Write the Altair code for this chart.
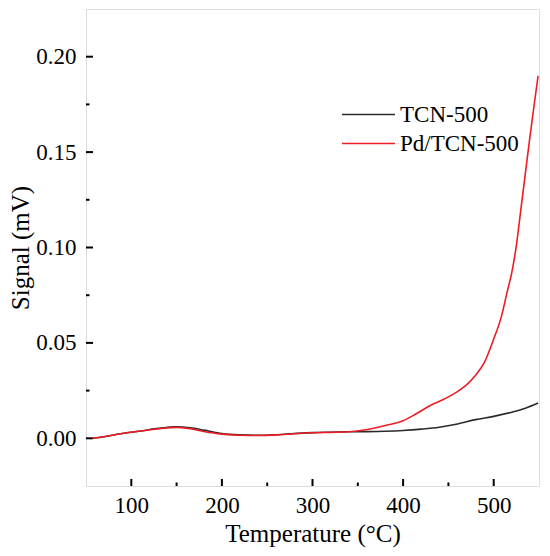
import altair as alt
import pandas as pd

# TCN-500 (black)
t_tcn = [57, 70, 90, 110, 130, 150, 165, 180, 200, 220, 240, 260, 280, 300, 320,
         340, 360, 380, 400, 420, 440, 460, 480, 500, 520, 535, 549]
v_tcn = [0.0, 0.0008, 0.0025, 0.0038, 0.0052, 0.006, 0.0055, 0.0043, 0.0025, 0.0018,
         0.0016, 0.0019, 0.0025, 0.003, 0.0032, 0.0034, 0.0035, 0.0037, 0.0041, 0.0048,
         0.0058, 0.0075, 0.0098, 0.0115, 0.0137, 0.0158, 0.0185]

# Pd/TCN-500 (red)
t_pd = [57, 70, 90, 110, 130, 150, 165, 180, 200, 220, 240, 260, 280, 300, 320, 340,
        355, 370, 385, 400, 415, 430, 445, 460, 470, 480, 490, 500, 508, 515, 520,
        525, 530, 535, 540, 545, 549]
v_pd = [0.0, 0.0008, 0.0025, 0.0038, 0.005, 0.0057, 0.005, 0.0036, 0.0022, 0.0016,
        0.0015, 0.0018, 0.0024, 0.0029, 0.0031, 0.0034, 0.0042, 0.0055, 0.0072, 0.0092,
        0.013, 0.0172, 0.0205, 0.0245, 0.028, 0.033, 0.04, 0.052, 0.063, 0.077, 0.087,
        0.101, 0.12, 0.139, 0.158, 0.176, 0.19]

series_names = ["TCN-500", "Pd/TCN-500"]
series_colors = ["#2b2b2b", "#ee1c24"]

x_major = [100, 200, 300, 400, 500]
x_minor = [150, 250, 350, 450]
y_major = [0.0, 0.05, 0.10, 0.15, 0.20]
y_minor = [0.025, 0.075, 0.125, 0.175]

W, H = 453, 477
FONT = "Liberation Serif, Times New Roman, serif"

df_tcn = pd.DataFrame({"T": t_tcn, "v": v_tcn, "s": series_names[0]})
df_pd = pd.DataFrame({"T": t_pd, "v": v_pd, "s": series_names[1]})

xscale = alt.Scale(domain=[50, 550], nice=False, zero=False)
yscale = alt.Scale(domain=[-0.025, 0.225], nice=False, zero=False)

xaxis = alt.Axis(values=x_major, ticks=False, tickSize=0, domain=False, grid=False,
                 labelFont=FONT, labelFontSize=23, labelColor="black", labelPadding=8,
                 title="Temperature (°C)", titleFont=FONT, titleFontSize=25,
                 titleFontWeight="normal", titleColor="black", titlePadding=4)
yaxis = alt.Axis(values=y_major, format=".2f", ticks=False, tickSize=0, domain=False,
                 grid=False, labelFont=FONT, labelFontSize=23, labelColor="black",
                 labelPadding=10, title="Signal (mV)", titleFont=FONT, titleFontSize=25,
                 titleFontWeight="normal", titleColor="black", titlePadding=2)

color = alt.Color("s:N", scale=alt.Scale(domain=series_names, range=series_colors),
                  sort=series_names,
                  legend=alt.Legend(title=None, orient="none", legendX=255, legendY=91,
                                    symbolType="stroke", symbolSize=2809,
                                    symbolStrokeWidth=1.6, labelFont=FONT,
                                    labelFontSize=23, labelColor="black",
                                    labelOffset=4, rowPadding=0, clipHeight=29))

line_tcn = alt.Chart(df_tcn).mark_line(strokeWidth=1.6, interpolate="monotone").encode(
    x=alt.X("T:Q", scale=xscale, axis=xaxis),
    y=alt.Y("v:Q", scale=yscale, axis=yaxis),
    color=color,
)
line_pd = alt.Chart(df_pd).mark_line(strokeWidth=1.6, interpolate="monotone").encode(
    x=alt.X("T:Q", scale=xscale),
    y=alt.Y("v:Q", scale=yscale),
    color=color,
)

def xticks(vals, length):
    return alt.Chart(pd.DataFrame({"T": vals})).mark_rule(color="black", strokeWidth=2).encode(
        x=alt.X("T:Q", scale=xscale),
        y=alt.value(H), y2=alt.value(H - length))

def yticks(vals, length):
    return alt.Chart(pd.DataFrame({"v": vals})).mark_rule(color="black", strokeWidth=2).encode(
        y=alt.Y("v:Q", scale=yscale),
        x=alt.value(0), x2=alt.value(length))

chart = alt.layer(
    xticks(x_major, 7), xticks(x_minor, 3.5),
    yticks(y_major, 7), yticks(y_minor, 3.5),
    line_tcn, line_pd,
).properties(
    width=W, height=H, autosize="none",
    padding={"left": 78, "top": 1, "right": 3, "bottom": 62},
).configure_view(stroke="black", strokeWidth=2).configure(background="white", font=FONT)

chart.save("out.html", embed_options={"renderer": "svg", "actions": False})
